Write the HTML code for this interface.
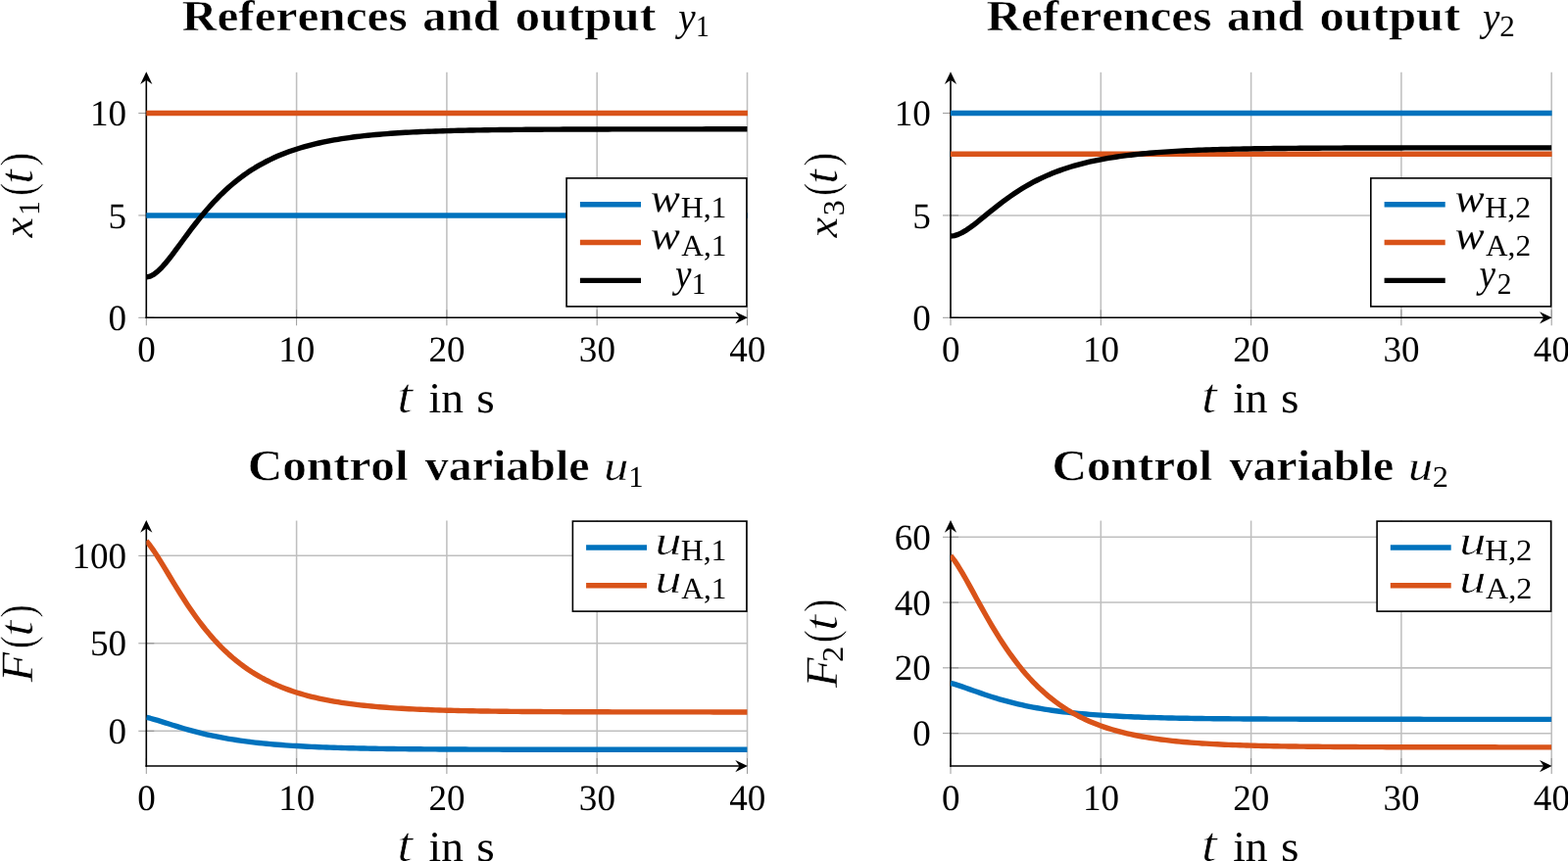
<!DOCTYPE html>
<html lang="en">
<head>
<meta charset="utf-8">
<title>References, outputs and control variables</title>
<style>
html,body{margin:0;padding:0;background:#fff;}
body{width:1600px;height:879px;overflow:hidden;font-family:"Liberation Serif", serif;}
svg text{font-family:"Liberation Serif", serif;white-space:pre;}
</style>
</head>
<body>
<svg width="1600" height="879" viewBox="0 0 1600 879" font-family='"Liberation Serif", serif' style="display:block;font-kerning:none;font-variant-ligatures:none" text-rendering="geometricPrecision">
<rect width="1600" height="879" fill="#fff"/>
<g id="plot1">
<g stroke="#bfbfbf" stroke-width="1.55" fill="none">
<line x1="302.6" y1="73.8" x2="302.6" y2="324.3"/>
<line x1="455.9" y1="73.8" x2="455.9" y2="324.3"/>
<line x1="609.2" y1="73.8" x2="609.2" y2="324.3"/>
<line x1="762.5" y1="73.8" x2="762.5" y2="324.3"/>
<line x1="149.3" y1="219.93" x2="762.5" y2="219.93"/>
<line x1="149.3" y1="115.55" x2="762.5" y2="115.55"/>
</g>
<g stroke="#808080" stroke-width="0.8" fill="none">
<line x1="149.3" y1="316.3" x2="149.3" y2="332.3"/>
<line x1="302.6" y1="316.3" x2="302.6" y2="332.3"/>
<line x1="455.9" y1="316.3" x2="455.9" y2="332.3"/>
<line x1="609.2" y1="316.3" x2="609.2" y2="332.3"/>
<line x1="762.5" y1="316.3" x2="762.5" y2="332.3"/>
<line x1="141.3" y1="324.3" x2="157.3" y2="324.3"/>
<line x1="141.3" y1="219.93" x2="157.3" y2="219.93"/>
<line x1="141.3" y1="115.55" x2="157.3" y2="115.55"/>
</g>
<g stroke="#000" stroke-width="1.6" fill="none">
<line x1="149.3" y1="325.1" x2="149.3" y2="79.8"/>
<line x1="148.5" y1="324.3" x2="756.5" y2="324.3"/>
</g>
<path d="M149.3 73.3 L155.4 86 L149.3 81.8 L143.2 86 Z" fill="#000"/>
<path d="M762.9 324.3 L750.3 318.2 L754.5 324.3 L750.3 330.4 Z" fill="#000"/>
<clipPath id="clip1"><rect x="149.3" y="68.8" width="613.6" height="260.5"/></clipPath>
<g clip-path="url(#clip1)" fill="none" stroke-width="5.4" stroke-linejoin="round">
<line x1="147.3" y1="219.93" x2="764.5" y2="219.93" stroke="#0072BD"/>
<line x1="147.3" y1="115.55" x2="764.5" y2="115.55" stroke="#D95319"/>
<polyline points="149.3,282.9 153.13,282.16 156.97,280.16 160.8,277.18 164.63,273.45 168.46,269.17 172.3,264.5 176.13,259.55 179.96,254.43 183.79,249.24 187.62,244.02 191.46,238.84 195.29,233.74 199.12,228.74 202.96,223.88 206.79,219.17 210.62,214.62 214.45,210.25 218.29,206.05 222.12,202.03 225.95,198.2 229.78,194.54 233.62,191.05 237.45,187.74 241.28,184.6 245.11,181.61 248.95,178.79 252.78,176.11 256.61,173.57 260.44,171.18 264.27,168.91 268.11,166.77 271.94,164.75 275.77,162.84 279.61,161.04 283.44,159.34 287.27,157.74 291.1,156.23 294.94,154.8 298.77,153.46 302.6,152.19 306.43,151 310.26,149.88 314.1,148.82 317.93,147.82 321.76,146.88 325.6,146 329.43,145.16 333.26,144.38 337.09,143.64 340.93,142.95 344.76,142.29 348.59,141.67 352.42,141.09 356.25,140.55 360.09,140.03 363.92,139.55 367.75,139.09 371.59,138.66 375.42,138.26 379.25,137.88 383.08,137.52 386.92,137.19 390.75,136.87 394.58,136.57 398.41,136.29 402.25,136.03 406.08,135.78 409.91,135.54 413.74,135.32 417.57,135.11 421.41,134.92 425.24,134.74 429.07,134.56 432.91,134.4 436.74,134.25 440.57,134.1 444.4,133.97 448.24,133.84 452.07,133.72 455.9,133.61 459.73,133.5 463.56,133.4 467.4,133.31 471.23,133.22 475.06,133.13 478.9,133.05 482.73,132.98 486.56,132.91 490.39,132.85 494.23,132.78 498.06,132.73 501.89,132.67 505.72,132.62 509.56,132.57 513.39,132.53 517.22,132.48 521.05,132.44 524.88,132.4 528.72,132.37 532.55,132.33 536.38,132.3 540.22,132.27 544.05,132.25 547.88,132.22 551.71,132.19 555.55,132.17 559.38,132.15 563.21,132.13 567.04,132.11 570.88,132.09 574.71,132.07 578.54,132.06 582.37,132.04 586.21,132.03 590.04,132.01 593.87,132 597.7,131.99 601.54,131.98 605.37,131.97 609.2,131.96 613.03,131.95 616.87,131.94 620.7,131.93 624.53,131.92 628.36,131.92 632.2,131.91 636.03,131.9 639.86,131.9 643.69,131.89 647.53,131.88 651.36,131.88 655.19,131.87 659.02,131.87 662.86,131.87 666.69,131.86 670.52,131.86 674.35,131.85 678.18,131.85 682.02,131.85 685.85,131.84 689.68,131.84 693.52,131.84 697.35,131.84 701.18,131.83 705.01,131.83 708.85,131.83 712.68,131.83 716.51,131.83 720.34,131.82 724.17,131.82 728.01,131.82 731.84,131.82 735.67,131.82 739.51,131.82 743.34,131.82 747.17,131.82 751,131.81 754.84,131.81 758.67,131.81 762.5,131.81" stroke="#000000"/>
</g>
<text><tspan x="140.22" y="369.2" font-size="37.1" textLength="18.55" lengthAdjust="spacingAndGlyphs">0</tspan></text>
<text><tspan x="284.25" y="369.2" font-size="37.1" textLength="37.1" lengthAdjust="spacingAndGlyphs">10</tspan></text>
<text><tspan x="437.55" y="369.2" font-size="37.1" textLength="37.1" lengthAdjust="spacingAndGlyphs">20</tspan></text>
<text><tspan x="590.85" y="369.2" font-size="37.1" textLength="37.1" lengthAdjust="spacingAndGlyphs">30</tspan></text>
<text><tspan x="744.15" y="369.2" font-size="37.1" textLength="37.1" lengthAdjust="spacingAndGlyphs">40</tspan></text>
<text><tspan x="110.56" y="336.9" font-size="37.1" textLength="18.55" lengthAdjust="spacingAndGlyphs">0</tspan></text>
<text><tspan x="110.6" y="232.53" font-size="37.1" textLength="18.55" lengthAdjust="spacingAndGlyphs">5</tspan></text>
<text><tspan x="92.01" y="128.15" font-size="37.1" textLength="37.1" lengthAdjust="spacingAndGlyphs">10</tspan></text>
<text><tspan x="405.26" y="421.24" font-size="50.59" textLength="15.84" lengthAdjust="spacingAndGlyphs" font-style="italic" stroke="#fff" stroke-width="0.67" stroke-linejoin="round">t</tspan> <tspan x="437.54" y="421" font-size="43.8" textLength="35.39" lengthAdjust="spacingAndGlyphs">in</tspan> <tspan x="486.35" y="421" font-size="43.8" textLength="18.46" lengthAdjust="spacingAndGlyphs">s</tspan></text>
<text transform="rotate(-90)"><tspan x="-242.51" y="33.48" font-size="43.49" textLength="20.74" lengthAdjust="spacingAndGlyphs" font-style="italic" stroke="#fff" stroke-width="0.16" stroke-linejoin="round">x</tspan><tspan x="-219.77" y="39.9" font-size="30.5" textLength="14.63" lengthAdjust="spacingAndGlyphs">1</tspan><tspan x="-200.1" y="33.78" font-size="49.19" textLength="13.23" lengthAdjust="spacingAndGlyphs" stroke="#fff" stroke-width="0.7" stroke-linejoin="round">(</tspan><tspan x="-187.67" y="33.15" font-size="49.36" textLength="14.74" lengthAdjust="spacingAndGlyphs" font-style="italic" stroke="#fff" stroke-width="0.47" stroke-linejoin="round">t</tspan><tspan x="-169.72" y="33.78" font-size="49.19" textLength="14.13" lengthAdjust="spacingAndGlyphs" stroke="#fff" stroke-width="0.7" stroke-linejoin="round">)</tspan></text>
<text><tspan x="185.81" y="30.5" font-size="44.37" textLength="229.85" lengthAdjust="spacingAndGlyphs" font-weight="bold" stroke="#fff" stroke-width="0.5" stroke-linejoin="round">References</tspan> <tspan x="431.38" y="30.5" font-size="44.37" textLength="78.62" lengthAdjust="spacingAndGlyphs" font-weight="bold" stroke="#fff" stroke-width="0.5" stroke-linejoin="round">and</tspan> <tspan x="525.82" y="30.5" font-size="44.37" textLength="143.65" lengthAdjust="spacingAndGlyphs" font-weight="bold" stroke="#fff" stroke-width="0.5" stroke-linejoin="round">output</tspan> <tspan x="692.27" y="30.51" font-size="41.2" textLength="17.41" lengthAdjust="spacingAndGlyphs" font-style="italic">y</tspan><tspan x="710.05" y="37.1" font-size="30.5" textLength="13.92" lengthAdjust="spacingAndGlyphs">1</tspan></text>
<rect x="578.1" y="181.9" width="183.8" height="131" fill="#fff" stroke="#000" stroke-width="1.6"/>
<line x1="591.9" y1="208.75" x2="654" y2="208.75" stroke="#0072BD" stroke-width="5.4"/>
<line x1="591.9" y1="247.5" x2="654" y2="247.5" stroke="#D95319" stroke-width="5.4"/>
<line x1="591.9" y1="286.4" x2="654" y2="286.4" stroke="#000000" stroke-width="5.4"/>
<text><tspan x="664.1" y="215.63" font-size="41.08" textLength="29.85" lengthAdjust="spacingAndGlyphs" font-style="italic" stroke="#fff" stroke-width="0.06" stroke-linejoin="round">w</tspan><tspan x="694.68" y="222.2" font-size="30.5" textLength="46.83" lengthAdjust="spacingAndGlyphs">H,1</tspan></text>
<text><tspan x="664.1" y="254.43" font-size="41.08" textLength="29.85" lengthAdjust="spacingAndGlyphs" font-style="italic" stroke="#fff" stroke-width="0.06" stroke-linejoin="round">w</tspan><tspan x="695.29" y="261" font-size="30.5" textLength="46.19" lengthAdjust="spacingAndGlyphs">A,1</tspan></text>
<text><tspan x="688.9" y="292.97" font-size="40.9" textLength="16.48" lengthAdjust="spacingAndGlyphs" font-style="italic">y</tspan><tspan x="705.73" y="300" font-size="30.5" textLength="14.63" lengthAdjust="spacingAndGlyphs">1</tspan></text>
</g>
<g id="plot2">
<g stroke="#bfbfbf" stroke-width="1.55" fill="none">
<line x1="1123.3" y1="73.8" x2="1123.3" y2="324.3"/>
<line x1="1276.6" y1="73.8" x2="1276.6" y2="324.3"/>
<line x1="1429.9" y1="73.8" x2="1429.9" y2="324.3"/>
<line x1="1583.2" y1="73.8" x2="1583.2" y2="324.3"/>
<line x1="970" y1="219.93" x2="1583.2" y2="219.93"/>
<line x1="970" y1="115.55" x2="1583.2" y2="115.55"/>
</g>
<g stroke="#808080" stroke-width="0.8" fill="none">
<line x1="970" y1="316.3" x2="970" y2="332.3"/>
<line x1="1123.3" y1="316.3" x2="1123.3" y2="332.3"/>
<line x1="1276.6" y1="316.3" x2="1276.6" y2="332.3"/>
<line x1="1429.9" y1="316.3" x2="1429.9" y2="332.3"/>
<line x1="1583.2" y1="316.3" x2="1583.2" y2="332.3"/>
<line x1="962" y1="324.3" x2="978" y2="324.3"/>
<line x1="962" y1="219.93" x2="978" y2="219.93"/>
<line x1="962" y1="115.55" x2="978" y2="115.55"/>
</g>
<g stroke="#000" stroke-width="1.6" fill="none">
<line x1="970" y1="325.1" x2="970" y2="79.8"/>
<line x1="969.2" y1="324.3" x2="1577.2" y2="324.3"/>
</g>
<path d="M970 73.3 L976.1 86 L970 81.8 L963.9 86 Z" fill="#000"/>
<path d="M1583.6 324.3 L1571 318.2 L1575.2 324.3 L1571 330.4 Z" fill="#000"/>
<clipPath id="clip2"><rect x="970" y="68.8" width="613.6" height="260.5"/></clipPath>
<g clip-path="url(#clip2)" fill="none" stroke-width="5.4" stroke-linejoin="round">
<line x1="968" y1="115.55" x2="1585.2" y2="115.55" stroke="#0072BD"/>
<line x1="968" y1="157.3" x2="1585.2" y2="157.3" stroke="#D95319"/>
<polyline points="970,241.07 973.83,240.63 977.66,239.42 981.5,237.63 985.33,235.39 989.16,232.82 993,230.01 996.83,227.04 1000.66,223.97 1004.49,220.85 1008.33,217.71 1012.16,214.61 1015.99,211.55 1019.82,208.55 1023.65,205.64 1027.49,202.81 1031.32,200.09 1035.15,197.47 1038.98,194.95 1042.82,192.55 1046.65,190.25 1050.48,188.06 1054.32,185.98 1058.15,184 1061.98,182.12 1065.81,180.34 1069.64,178.65 1073.48,177.06 1077.31,175.54 1081.14,174.11 1084.97,172.76 1088.81,171.49 1092.64,170.29 1096.47,169.15 1100.31,168.08 1104.14,167.07 1107.97,166.12 1111.8,165.22 1115.63,164.37 1119.47,163.58 1123.3,162.82 1127.13,162.12 1130.96,161.45 1134.8,160.82 1138.63,160.23 1142.46,159.68 1146.3,159.16 1150.13,158.66 1153.96,158.2 1157.79,157.76 1161.62,157.35 1165.46,156.97 1169.29,156.6 1173.12,156.26 1176.95,155.94 1180.79,155.64 1184.62,155.35 1188.45,155.09 1192.29,154.83 1196.12,154.6 1199.95,154.37 1203.78,154.16 1207.62,153.97 1211.45,153.78 1215.28,153.61 1219.11,153.44 1222.94,153.29 1226.78,153.14 1230.61,153 1234.44,152.88 1238.28,152.76 1242.11,152.64 1245.94,152.53 1249.77,152.43 1253.61,152.34 1257.44,152.25 1261.27,152.17 1265.1,152.09 1268.93,152.01 1272.77,151.94 1276.6,151.88 1280.43,151.82 1284.26,151.76 1288.1,151.7 1291.93,151.65 1295.76,151.6 1299.6,151.56 1303.43,151.51 1307.26,151.47 1311.09,151.44 1314.93,151.4 1318.76,151.37 1322.59,151.34 1326.42,151.31 1330.26,151.28 1334.09,151.25 1337.92,151.23 1341.75,151.2 1345.59,151.18 1349.42,151.16 1353.25,151.14 1357.08,151.12 1360.91,151.11 1364.75,151.09 1368.58,151.08 1372.41,151.06 1376.24,151.05 1380.08,151.04 1383.91,151.02 1387.74,151.01 1391.58,151 1395.41,150.99 1399.24,150.98 1403.07,150.97 1406.9,150.97 1410.74,150.96 1414.57,150.95 1418.4,150.94 1422.24,150.94 1426.07,150.93 1429.9,150.93 1433.73,150.92 1437.57,150.92 1441.4,150.91 1445.23,150.91 1449.06,150.9 1452.89,150.9 1456.73,150.89 1460.56,150.89 1464.39,150.89 1468.22,150.88 1472.06,150.88 1475.89,150.88 1479.72,150.88 1483.56,150.87 1487.39,150.87 1491.22,150.87 1495.05,150.87 1498.88,150.87 1502.72,150.86 1506.55,150.86 1510.38,150.86 1514.22,150.86 1518.05,150.86 1521.88,150.86 1525.71,150.86 1529.55,150.85 1533.38,150.85 1537.21,150.85 1541.04,150.85 1544.88,150.85 1548.71,150.85 1552.54,150.85 1556.37,150.85 1560.2,150.85 1564.04,150.85 1567.87,150.85 1571.7,150.85 1575.54,150.84 1579.37,150.84 1583.2,150.84" stroke="#000000"/>
</g>
<text><tspan x="960.93" y="369.2" font-size="37.1" textLength="18.55" lengthAdjust="spacingAndGlyphs">0</tspan></text>
<text><tspan x="1104.95" y="369.2" font-size="37.1" textLength="37.1" lengthAdjust="spacingAndGlyphs">10</tspan></text>
<text><tspan x="1258.25" y="369.2" font-size="37.1" textLength="37.1" lengthAdjust="spacingAndGlyphs">20</tspan></text>
<text><tspan x="1411.55" y="369.2" font-size="37.1" textLength="37.1" lengthAdjust="spacingAndGlyphs">30</tspan></text>
<text><tspan x="1564.85" y="369.2" font-size="37.1" textLength="37.1" lengthAdjust="spacingAndGlyphs">40</tspan></text>
<text><tspan x="931.26" y="336.9" font-size="37.1" textLength="18.55" lengthAdjust="spacingAndGlyphs">0</tspan></text>
<text><tspan x="931.3" y="232.53" font-size="37.1" textLength="18.55" lengthAdjust="spacingAndGlyphs">5</tspan></text>
<text><tspan x="912.71" y="128.15" font-size="37.1" textLength="37.1" lengthAdjust="spacingAndGlyphs">10</tspan></text>
<text><tspan x="1225.96" y="421.24" font-size="50.59" textLength="15.84" lengthAdjust="spacingAndGlyphs" font-style="italic" stroke="#fff" stroke-width="0.67" stroke-linejoin="round">t</tspan> <tspan x="1258.24" y="421" font-size="43.8" textLength="35.39" lengthAdjust="spacingAndGlyphs">in</tspan> <tspan x="1307.05" y="421" font-size="43.8" textLength="18.46" lengthAdjust="spacingAndGlyphs">s</tspan></text>
<text transform="rotate(-90)"><tspan x="-242.51" y="854.18" font-size="43.49" textLength="20.74" lengthAdjust="spacingAndGlyphs" font-style="italic" stroke="#fff" stroke-width="0.16" stroke-linejoin="round">x</tspan><tspan x="-220.23" y="860.6" font-size="30.5" textLength="15.98" lengthAdjust="spacingAndGlyphs">3</tspan><tspan x="-200.1" y="854.48" font-size="49.19" textLength="13.23" lengthAdjust="spacingAndGlyphs" stroke="#fff" stroke-width="0.7" stroke-linejoin="round">(</tspan><tspan x="-187.67" y="853.85" font-size="49.36" textLength="14.74" lengthAdjust="spacingAndGlyphs" font-style="italic" stroke="#fff" stroke-width="0.47" stroke-linejoin="round">t</tspan><tspan x="-169.72" y="854.48" font-size="49.19" textLength="14.13" lengthAdjust="spacingAndGlyphs" stroke="#fff" stroke-width="0.7" stroke-linejoin="round">)</tspan></text>
<text><tspan x="1006.51" y="30.5" font-size="44.37" textLength="229.85" lengthAdjust="spacingAndGlyphs" font-weight="bold" stroke="#fff" stroke-width="0.5" stroke-linejoin="round">References</tspan> <tspan x="1252.08" y="30.5" font-size="44.37" textLength="78.62" lengthAdjust="spacingAndGlyphs" font-weight="bold" stroke="#fff" stroke-width="0.5" stroke-linejoin="round">and</tspan> <tspan x="1346.52" y="30.5" font-size="44.37" textLength="143.65" lengthAdjust="spacingAndGlyphs" font-weight="bold" stroke="#fff" stroke-width="0.5" stroke-linejoin="round">output</tspan> <tspan x="1512.97" y="30.51" font-size="41.2" textLength="17.41" lengthAdjust="spacingAndGlyphs" font-style="italic">y</tspan><tspan x="1530.23" y="37.1" font-size="30.5" textLength="15.59" lengthAdjust="spacingAndGlyphs">2</tspan></text>
<rect x="1398.8" y="181.9" width="183.8" height="131" fill="#fff" stroke="#000" stroke-width="1.6"/>
<line x1="1412.6" y1="208.75" x2="1474.7" y2="208.75" stroke="#0072BD" stroke-width="5.4"/>
<line x1="1412.6" y1="247.5" x2="1474.7" y2="247.5" stroke="#D95319" stroke-width="5.4"/>
<line x1="1412.6" y1="286.4" x2="1474.7" y2="286.4" stroke="#000000" stroke-width="5.4"/>
<text><tspan x="1484.8" y="215.63" font-size="41.08" textLength="29.85" lengthAdjust="spacingAndGlyphs" font-style="italic" stroke="#fff" stroke-width="0.06" stroke-linejoin="round">w</tspan><tspan x="1515.39" y="222.2" font-size="30.5" textLength="46.66" lengthAdjust="spacingAndGlyphs">H,2</tspan></text>
<text><tspan x="1484.8" y="254.43" font-size="41.08" textLength="29.85" lengthAdjust="spacingAndGlyphs" font-style="italic" stroke="#fff" stroke-width="0.06" stroke-linejoin="round">w</tspan><tspan x="1515.99" y="261" font-size="30.5" textLength="46.03" lengthAdjust="spacingAndGlyphs">A,2</tspan></text>
<text><tspan x="1509.6" y="292.97" font-size="40.9" textLength="16.48" lengthAdjust="spacingAndGlyphs" font-style="italic">y</tspan><tspan x="1527.71" y="300" font-size="30.5" textLength="14.72" lengthAdjust="spacingAndGlyphs">2</tspan></text>
</g>
<g id="plot3">
<g stroke="#bfbfbf" stroke-width="1.55" fill="none">
<line x1="302.6" y1="531.55" x2="302.6" y2="782.05"/>
<line x1="455.9" y1="531.55" x2="455.9" y2="782.05"/>
<line x1="609.2" y1="531.55" x2="609.2" y2="782.05"/>
<line x1="762.5" y1="531.55" x2="762.5" y2="782.05"/>
<line x1="149.3" y1="746.26" x2="762.5" y2="746.26"/>
<line x1="149.3" y1="656.8" x2="762.5" y2="656.8"/>
<line x1="149.3" y1="567.34" x2="762.5" y2="567.34"/>
</g>
<g stroke="#808080" stroke-width="0.8" fill="none">
<line x1="149.3" y1="774.05" x2="149.3" y2="790.05"/>
<line x1="302.6" y1="774.05" x2="302.6" y2="790.05"/>
<line x1="455.9" y1="774.05" x2="455.9" y2="790.05"/>
<line x1="609.2" y1="774.05" x2="609.2" y2="790.05"/>
<line x1="762.5" y1="774.05" x2="762.5" y2="790.05"/>
<line x1="141.3" y1="746.26" x2="157.3" y2="746.26"/>
<line x1="141.3" y1="656.8" x2="157.3" y2="656.8"/>
<line x1="141.3" y1="567.34" x2="157.3" y2="567.34"/>
</g>
<g stroke="#000" stroke-width="1.6" fill="none">
<line x1="149.3" y1="782.85" x2="149.3" y2="537.55"/>
<line x1="148.5" y1="782.05" x2="756.5" y2="782.05"/>
</g>
<path d="M149.3 531.05 L155.4 543.75 L149.3 539.55 L143.2 543.75 Z" fill="#000"/>
<path d="M762.9 782.05 L750.3 775.95 L754.5 782.05 L750.3 788.15 Z" fill="#000"/>
<clipPath id="clip3"><rect x="149.3" y="526.55" width="613.6" height="260.5"/></clipPath>
<g clip-path="url(#clip3)" fill="none" stroke-width="5.4" stroke-linejoin="round">
<polyline points="149.3,732.28 153.13,733.24 156.97,734.31 160.8,735.45 164.63,736.63 168.46,737.83 172.3,739.04 176.13,740.25 179.96,741.44 183.79,742.61 187.62,743.74 191.46,744.84 195.29,745.91 199.12,746.93 202.96,747.92 206.79,748.86 210.62,749.76 214.45,750.62 218.29,751.43 222.12,752.21 225.95,752.95 229.78,753.65 233.62,754.31 237.45,754.94 241.28,755.54 245.11,756.1 248.95,756.63 252.78,757.13 256.61,757.61 260.44,758.06 264.27,758.48 268.11,758.88 271.94,759.25 275.77,759.61 279.61,759.94 283.44,760.25 287.27,760.55 291.1,760.83 294.94,761.09 298.77,761.34 302.6,761.57 306.43,761.79 310.26,762 314.1,762.2 317.93,762.38 321.76,762.55 325.6,762.71 329.43,762.87 333.26,763.01 337.09,763.15 340.93,763.27 344.76,763.39 348.59,763.51 352.42,763.61 356.25,763.71 360.09,763.81 363.92,763.9 367.75,763.98 371.59,764.06 375.42,764.13 379.25,764.2 383.08,764.27 386.92,764.33 390.75,764.39 394.58,764.44 398.41,764.49 402.25,764.54 406.08,764.59 409.91,764.63 413.74,764.67 417.57,764.71 421.41,764.74 425.24,764.78 429.07,764.81 432.91,764.84 436.74,764.86 440.57,764.89 444.4,764.92 448.24,764.94 452.07,764.96 455.9,764.98 459.73,765 463.56,765.02 467.4,765.04 471.23,765.05 475.06,765.07 478.9,765.08 482.73,765.09 486.56,765.11 490.39,765.12 494.23,765.13 498.06,765.14 501.89,765.15 505.72,765.16 509.56,765.17 513.39,765.18 517.22,765.18 521.05,765.19 524.88,765.2 528.72,765.21 532.55,765.21 536.38,765.22 540.22,765.22 544.05,765.23 547.88,765.23 551.71,765.24 555.55,765.24 559.38,765.25 563.21,765.25 567.04,765.25 570.88,765.26 574.71,765.26 578.54,765.26 582.37,765.26 586.21,765.27 590.04,765.27 593.87,765.27 597.7,765.27 601.54,765.28 605.37,765.28 609.2,765.28 613.03,765.28 616.87,765.28 620.7,765.28 624.53,765.29 628.36,765.29 632.2,765.29 636.03,765.29 639.86,765.29 643.69,765.29 647.53,765.29 651.36,765.29 655.19,765.29 659.02,765.3 662.86,765.3 666.69,765.3 670.52,765.3 674.35,765.3 678.18,765.3 682.02,765.3 685.85,765.3 689.68,765.3 693.52,765.3 697.35,765.3 701.18,765.3 705.01,765.3 708.85,765.3 712.68,765.3 716.51,765.3 720.34,765.3 724.17,765.3 728.01,765.3 731.84,765.3 735.67,765.3 739.51,765.3 743.34,765.3 747.17,765.31 751,765.31 754.84,765.31 758.67,765.31 762.5,765.31" stroke="#0072BD"/>
<polyline points="149.3,552.09 153.13,556.94 156.97,562.38 160.8,568.24 164.63,574.37 168.46,580.66 172.3,587.01 176.13,593.35 179.96,599.63 183.79,605.79 187.62,611.81 191.46,617.66 195.29,623.31 199.12,628.76 202.96,633.99 206.79,639.01 210.62,643.81 214.45,648.38 218.29,652.74 222.12,656.89 225.95,660.83 229.78,664.57 233.62,668.12 237.45,671.48 241.28,674.65 245.11,677.66 248.95,680.5 252.78,683.19 256.61,685.73 260.44,688.12 264.27,690.38 268.11,692.51 271.94,694.52 275.77,696.42 279.61,698.21 283.44,699.89 287.27,701.48 291.1,702.97 294.94,704.38 298.77,705.71 302.6,706.96 306.43,708.13 310.26,709.24 314.1,710.28 317.93,711.27 321.76,712.19 325.6,713.06 329.43,713.88 333.26,714.65 337.09,715.38 340.93,716.06 344.76,716.7 348.59,717.31 352.42,717.88 356.25,718.41 360.09,718.92 363.92,719.39 367.75,719.84 371.59,720.26 375.42,720.65 379.25,721.02 383.08,721.37 386.92,721.7 390.75,722.01 394.58,722.31 398.41,722.58 402.25,722.84 406.08,723.08 409.91,723.31 413.74,723.52 417.57,723.73 421.41,723.92 425.24,724.1 429.07,724.26 432.91,724.42 436.74,724.57 440.57,724.71 444.4,724.85 448.24,724.97 452.07,725.09 455.9,725.2 459.73,725.3 463.56,725.4 467.4,725.49 471.23,725.58 475.06,725.66 478.9,725.73 482.73,725.8 486.56,725.87 490.39,725.94 494.23,726 498.06,726.05 501.89,726.11 505.72,726.16 509.56,726.2 513.39,726.25 517.22,726.29 521.05,726.33 524.88,726.36 528.72,726.4 532.55,726.43 536.38,726.46 540.22,726.49 544.05,726.52 547.88,726.54 551.71,726.57 555.55,726.59 559.38,726.61 563.21,726.63 567.04,726.65 570.88,726.67 574.71,726.68 578.54,726.7 582.37,726.71 586.21,726.73 590.04,726.74 593.87,726.75 597.7,726.76 601.54,726.78 605.37,726.79 609.2,726.8 613.03,726.8 616.87,726.81 620.7,726.82 624.53,726.83 628.36,726.84 632.2,726.84 636.03,726.85 639.86,726.85 643.69,726.86 647.53,726.87 651.36,726.87 655.19,726.87 659.02,726.88 662.86,726.88 666.69,726.89 670.52,726.89 674.35,726.89 678.18,726.9 682.02,726.9 685.85,726.9 689.68,726.91 693.52,726.91 697.35,726.91 701.18,726.91 705.01,726.92 708.85,726.92 712.68,726.92 716.51,726.92 720.34,726.92 724.17,726.92 728.01,726.93 731.84,726.93 735.67,726.93 739.51,726.93 743.34,726.93 747.17,726.93 751,726.93 754.84,726.93 758.67,726.93 762.5,726.94" stroke="#D95319"/>
</g>
<text><tspan x="140.22" y="826.95" font-size="37.1" textLength="18.55" lengthAdjust="spacingAndGlyphs">0</tspan></text>
<text><tspan x="284.25" y="826.95" font-size="37.1" textLength="37.1" lengthAdjust="spacingAndGlyphs">10</tspan></text>
<text><tspan x="437.55" y="826.95" font-size="37.1" textLength="37.1" lengthAdjust="spacingAndGlyphs">20</tspan></text>
<text><tspan x="590.85" y="826.95" font-size="37.1" textLength="37.1" lengthAdjust="spacingAndGlyphs">30</tspan></text>
<text><tspan x="744.15" y="826.95" font-size="37.1" textLength="37.1" lengthAdjust="spacingAndGlyphs">40</tspan></text>
<text><tspan x="110.56" y="758.86" font-size="37.1" textLength="18.55" lengthAdjust="spacingAndGlyphs">0</tspan></text>
<text><tspan x="92.01" y="669.4" font-size="37.1" textLength="37.1" lengthAdjust="spacingAndGlyphs">50</tspan></text>
<text><tspan x="73.46" y="579.94" font-size="37.1" textLength="55.65" lengthAdjust="spacingAndGlyphs">100</tspan></text>
<text><tspan x="405.26" y="878.84" font-size="50.59" textLength="15.84" lengthAdjust="spacingAndGlyphs" font-style="italic" stroke="#fff" stroke-width="0.67" stroke-linejoin="round">t</tspan> <tspan x="437.54" y="878.6" font-size="43.8" textLength="35.39" lengthAdjust="spacingAndGlyphs">in</tspan> <tspan x="486.35" y="878.6" font-size="43.8" textLength="18.46" lengthAdjust="spacingAndGlyphs">s</tspan></text>
<text transform="rotate(-90)"><tspan x="-696.2" y="33.17" font-size="46.34" textLength="30.36" lengthAdjust="spacingAndGlyphs" font-style="italic" stroke="#fff" stroke-width="0.34" stroke-linejoin="round">F</tspan><tspan x="-662.21" y="33.78" font-size="49.19" textLength="13.35" lengthAdjust="spacingAndGlyphs" stroke="#fff" stroke-width="0.7" stroke-linejoin="round">(</tspan><tspan x="-650.11" y="33.31" font-size="49.93" textLength="16.52" lengthAdjust="spacingAndGlyphs" font-style="italic" stroke="#fff" stroke-width="0.8" stroke-linejoin="round">t</tspan><tspan x="-631.09" y="33.78" font-size="49.19" textLength="13.87" lengthAdjust="spacingAndGlyphs" stroke="#fff" stroke-width="0.7" stroke-linejoin="round">)</tspan></text>
<text><tspan x="252.75" y="490" font-size="44.37" textLength="163.84" lengthAdjust="spacingAndGlyphs" font-weight="bold" stroke="#fff" stroke-width="0.5" stroke-linejoin="round">Control</tspan> <tspan x="433.75" y="490" font-size="44.37" textLength="167.74" lengthAdjust="spacingAndGlyphs" font-weight="bold" stroke="#fff" stroke-width="0.5" stroke-linejoin="round">variable</tspan> <tspan x="616.23" y="490.28" font-size="42.38" textLength="25.06" lengthAdjust="spacingAndGlyphs" font-style="italic" stroke="#fff" stroke-width="0.35" stroke-linejoin="round">u</tspan><tspan x="641.3" y="496.75" font-size="30.5" textLength="15.34" lengthAdjust="spacingAndGlyphs">1</tspan></text>
<rect x="584.4" y="532.1" width="177.5" height="92" fill="#fff" stroke="#000" stroke-width="1.6"/>
<line x1="598.1" y1="559" x2="660" y2="559" stroke="#0072BD" stroke-width="5.4"/>
<line x1="598.1" y1="597.75" x2="660" y2="597.75" stroke="#D95319" stroke-width="5.4"/>
<text><tspan x="668.34" y="565.92" font-size="42.34" textLength="27.57" lengthAdjust="spacingAndGlyphs" font-style="italic" stroke="#fff" stroke-width="0.63" stroke-linejoin="round">u</tspan><tspan x="694.68" y="572.2" font-size="30.5" textLength="46.83" lengthAdjust="spacingAndGlyphs">H,1</tspan></text>
<text><tspan x="668.34" y="604.72" font-size="42.34" textLength="27.57" lengthAdjust="spacingAndGlyphs" font-style="italic" stroke="#fff" stroke-width="0.63" stroke-linejoin="round">u</tspan><tspan x="695.29" y="611" font-size="30.5" textLength="46.19" lengthAdjust="spacingAndGlyphs">A,1</tspan></text>
</g>
<g id="plot4">
<g stroke="#bfbfbf" stroke-width="1.55" fill="none">
<line x1="1123.3" y1="531.55" x2="1123.3" y2="782.05"/>
<line x1="1276.6" y1="531.55" x2="1276.6" y2="782.05"/>
<line x1="1429.9" y1="531.55" x2="1429.9" y2="782.05"/>
<line x1="1583.2" y1="531.55" x2="1583.2" y2="782.05"/>
<line x1="970" y1="748.65" x2="1583.2" y2="748.65"/>
<line x1="970" y1="681.85" x2="1583.2" y2="681.85"/>
<line x1="970" y1="615.05" x2="1583.2" y2="615.05"/>
<line x1="970" y1="548.25" x2="1583.2" y2="548.25"/>
</g>
<g stroke="#808080" stroke-width="0.8" fill="none">
<line x1="970" y1="774.05" x2="970" y2="790.05"/>
<line x1="1123.3" y1="774.05" x2="1123.3" y2="790.05"/>
<line x1="1276.6" y1="774.05" x2="1276.6" y2="790.05"/>
<line x1="1429.9" y1="774.05" x2="1429.9" y2="790.05"/>
<line x1="1583.2" y1="774.05" x2="1583.2" y2="790.05"/>
<line x1="962" y1="748.65" x2="978" y2="748.65"/>
<line x1="962" y1="681.85" x2="978" y2="681.85"/>
<line x1="962" y1="615.05" x2="978" y2="615.05"/>
<line x1="962" y1="548.25" x2="978" y2="548.25"/>
</g>
<g stroke="#000" stroke-width="1.6" fill="none">
<line x1="970" y1="782.85" x2="970" y2="537.55"/>
<line x1="969.2" y1="782.05" x2="1577.2" y2="782.05"/>
</g>
<path d="M970 531.05 L976.1 543.75 L970 539.55 L963.9 543.75 Z" fill="#000"/>
<path d="M1583.6 782.05 L1571 775.95 L1575.2 782.05 L1571 788.15 Z" fill="#000"/>
<clipPath id="clip4"><rect x="970" y="526.55" width="613.6" height="260.5"/></clipPath>
<g clip-path="url(#clip4)" fill="none" stroke-width="5.4" stroke-linejoin="round">
<polyline points="970,697.33 973.83,698.42 977.66,699.63 981.5,700.91 985.33,702.24 989.16,703.59 993,704.95 996.83,706.31 1000.66,707.64 1004.49,708.95 1008.33,710.22 1012.16,711.46 1015.99,712.65 1019.82,713.8 1023.65,714.9 1027.49,715.95 1031.32,716.96 1035.15,717.92 1038.98,718.83 1042.82,719.7 1046.65,720.53 1050.48,721.31 1054.32,722.05 1058.15,722.76 1061.98,723.42 1065.81,724.05 1069.64,724.65 1073.48,725.21 1077.31,725.74 1081.14,726.24 1084.97,726.71 1088.81,727.16 1092.64,727.58 1096.47,727.97 1100.31,728.35 1104.14,728.7 1107.97,729.03 1111.8,729.34 1115.63,729.64 1119.47,729.91 1123.3,730.17 1127.13,730.42 1130.96,730.65 1134.8,730.87 1138.63,731.07 1142.46,731.27 1146.3,731.45 1150.13,731.62 1153.96,731.78 1157.79,731.93 1161.62,732.07 1165.46,732.21 1169.29,732.33 1173.12,732.45 1176.95,732.57 1180.79,732.67 1184.62,732.77 1188.45,732.86 1192.29,732.95 1196.12,733.03 1199.95,733.11 1203.78,733.18 1207.62,733.25 1211.45,733.32 1215.28,733.38 1219.11,733.44 1222.94,733.49 1226.78,733.54 1230.61,733.59 1234.44,733.63 1238.28,733.68 1242.11,733.71 1245.94,733.75 1249.77,733.79 1253.61,733.82 1257.44,733.85 1261.27,733.88 1265.1,733.91 1268.93,733.93 1272.77,733.96 1276.6,733.98 1280.43,734 1284.26,734.02 1288.1,734.04 1291.93,734.06 1295.76,734.08 1299.6,734.09 1303.43,734.11 1307.26,734.12 1311.09,734.14 1314.93,734.15 1318.76,734.16 1322.59,734.17 1326.42,734.18 1330.26,734.19 1334.09,734.2 1337.92,734.21 1341.75,734.22 1345.59,734.23 1349.42,734.23 1353.25,734.24 1357.08,734.25 1360.91,734.25 1364.75,734.26 1368.58,734.26 1372.41,734.27 1376.24,734.27 1380.08,734.28 1383.91,734.28 1387.74,734.29 1391.58,734.29 1395.41,734.29 1399.24,734.3 1403.07,734.3 1406.9,734.3 1410.74,734.3 1414.57,734.31 1418.4,734.31 1422.24,734.31 1426.07,734.31 1429.9,734.32 1433.73,734.32 1437.57,734.32 1441.4,734.32 1445.23,734.32 1449.06,734.32 1452.89,734.33 1456.73,734.33 1460.56,734.33 1464.39,734.33 1468.22,734.33 1472.06,734.33 1475.89,734.33 1479.72,734.33 1483.56,734.33 1487.39,734.33 1491.22,734.34 1495.05,734.34 1498.88,734.34 1502.72,734.34 1506.55,734.34 1510.38,734.34 1514.22,734.34 1518.05,734.34 1521.88,734.34 1525.71,734.34 1529.55,734.34 1533.38,734.34 1537.21,734.34 1541.04,734.34 1544.88,734.34 1548.71,734.34 1552.54,734.34 1556.37,734.34 1560.2,734.34 1564.04,734.34 1567.87,734.34 1571.7,734.34 1575.54,734.34 1579.37,734.34 1583.2,734.34" stroke="#0072BD"/>
<polyline points="970,567.26 973.83,572.1 977.66,577.8 981.5,584.09 985.33,590.75 989.16,597.64 993,604.64 996.83,611.67 1000.66,618.64 1004.49,625.52 1008.33,632.26 1012.16,638.83 1015.99,645.2 1019.82,651.35 1023.65,657.28 1027.49,662.98 1031.32,668.45 1035.15,673.67 1038.98,678.66 1042.82,683.41 1046.65,687.93 1050.48,692.23 1054.32,696.31 1058.15,700.18 1061.98,703.84 1065.81,707.31 1069.64,710.59 1073.48,713.69 1077.31,716.62 1081.14,719.38 1084.97,721.98 1088.81,724.44 1092.64,726.75 1096.47,728.93 1100.31,730.99 1104.14,732.92 1107.97,734.74 1111.8,736.45 1115.63,738.06 1119.47,739.58 1123.3,741 1127.13,742.34 1130.96,743.59 1134.8,744.78 1138.63,745.89 1142.46,746.93 1146.3,747.91 1150.13,748.83 1153.96,749.69 1157.79,750.5 1161.62,751.27 1165.46,751.98 1169.29,752.65 1173.12,753.28 1176.95,753.87 1180.79,754.43 1184.62,754.95 1188.45,755.44 1192.29,755.9 1196.12,756.33 1199.95,756.73 1203.78,757.11 1207.62,757.46 1211.45,757.8 1215.28,758.11 1219.11,758.41 1222.94,758.68 1226.78,758.94 1230.61,759.18 1234.44,759.41 1238.28,759.62 1242.11,759.82 1245.94,760.01 1249.77,760.19 1253.61,760.35 1257.44,760.51 1261.27,760.65 1265.1,760.79 1268.93,760.92 1272.77,761.04 1276.6,761.15 1280.43,761.25 1284.26,761.35 1288.1,761.45 1291.93,761.53 1295.76,761.62 1299.6,761.69 1303.43,761.76 1307.26,761.83 1311.09,761.89 1314.93,761.95 1318.76,762.01 1322.59,762.06 1326.42,762.11 1330.26,762.16 1334.09,762.2 1337.92,762.24 1341.75,762.28 1345.59,762.31 1349.42,762.35 1353.25,762.38 1357.08,762.41 1360.91,762.43 1364.75,762.46 1368.58,762.48 1372.41,762.51 1376.24,762.53 1380.08,762.55 1383.91,762.57 1387.74,762.59 1391.58,762.6 1395.41,762.62 1399.24,762.63 1403.07,762.65 1406.9,762.66 1410.74,762.67 1414.57,762.68 1418.4,762.69 1422.24,762.7 1426.07,762.71 1429.9,762.72 1433.73,762.73 1437.57,762.74 1441.4,762.74 1445.23,762.75 1449.06,762.76 1452.89,762.76 1456.73,762.77 1460.56,762.77 1464.39,762.78 1468.22,762.78 1472.06,762.79 1475.89,762.79 1479.72,762.79 1483.56,762.8 1487.39,762.8 1491.22,762.8 1495.05,762.81 1498.88,762.81 1502.72,762.81 1506.55,762.81 1510.38,762.82 1514.22,762.82 1518.05,762.82 1521.88,762.82 1525.71,762.82 1529.55,762.83 1533.38,762.83 1537.21,762.83 1541.04,762.83 1544.88,762.83 1548.71,762.83 1552.54,762.83 1556.37,762.83 1560.2,762.84 1564.04,762.84 1567.87,762.84 1571.7,762.84 1575.54,762.84 1579.37,762.84 1583.2,762.84" stroke="#D95319"/>
</g>
<text><tspan x="960.93" y="826.95" font-size="37.1" textLength="18.55" lengthAdjust="spacingAndGlyphs">0</tspan></text>
<text><tspan x="1104.95" y="826.95" font-size="37.1" textLength="37.1" lengthAdjust="spacingAndGlyphs">10</tspan></text>
<text><tspan x="1258.25" y="826.95" font-size="37.1" textLength="37.1" lengthAdjust="spacingAndGlyphs">20</tspan></text>
<text><tspan x="1411.55" y="826.95" font-size="37.1" textLength="37.1" lengthAdjust="spacingAndGlyphs">30</tspan></text>
<text><tspan x="1564.85" y="826.95" font-size="37.1" textLength="37.1" lengthAdjust="spacingAndGlyphs">40</tspan></text>
<text><tspan x="931.26" y="761.25" font-size="37.1" textLength="18.55" lengthAdjust="spacingAndGlyphs">0</tspan></text>
<text><tspan x="912.71" y="694.45" font-size="37.1" textLength="37.1" lengthAdjust="spacingAndGlyphs">20</tspan></text>
<text><tspan x="912.71" y="627.65" font-size="37.1" textLength="37.1" lengthAdjust="spacingAndGlyphs">40</tspan></text>
<text><tspan x="912.71" y="560.85" font-size="37.1" textLength="37.1" lengthAdjust="spacingAndGlyphs">60</tspan></text>
<text><tspan x="1225.96" y="878.84" font-size="50.59" textLength="15.84" lengthAdjust="spacingAndGlyphs" font-style="italic" stroke="#fff" stroke-width="0.67" stroke-linejoin="round">t</tspan> <tspan x="1258.24" y="878.6" font-size="43.8" textLength="35.39" lengthAdjust="spacingAndGlyphs">in</tspan> <tspan x="1307.05" y="878.6" font-size="43.8" textLength="18.46" lengthAdjust="spacingAndGlyphs">s</tspan></text>
<text transform="rotate(-90)"><tspan x="-701.92" y="853.89" font-size="46.39" textLength="30.69" lengthAdjust="spacingAndGlyphs" font-style="italic" stroke="#fff" stroke-width="0.37" stroke-linejoin="round">F</tspan><tspan x="-676.13" y="860.3" font-size="30.5" textLength="16.21" lengthAdjust="spacingAndGlyphs">2</tspan><tspan x="-656.31" y="854.48" font-size="49.19" textLength="13.35" lengthAdjust="spacingAndGlyphs" stroke="#fff" stroke-width="0.7" stroke-linejoin="round">(</tspan><tspan x="-644.21" y="854.01" font-size="49.93" textLength="16.52" lengthAdjust="spacingAndGlyphs" font-style="italic" stroke="#fff" stroke-width="0.8" stroke-linejoin="round">t</tspan><tspan x="-625.19" y="854.48" font-size="49.19" textLength="13.87" lengthAdjust="spacingAndGlyphs" stroke="#fff" stroke-width="0.7" stroke-linejoin="round">)</tspan></text>
<text><tspan x="1073.45" y="490" font-size="44.37" textLength="163.84" lengthAdjust="spacingAndGlyphs" font-weight="bold" stroke="#fff" stroke-width="0.5" stroke-linejoin="round">Control</tspan> <tspan x="1254.45" y="490" font-size="44.37" textLength="167.74" lengthAdjust="spacingAndGlyphs" font-weight="bold" stroke="#fff" stroke-width="0.5" stroke-linejoin="round">variable</tspan> <tspan x="1436.93" y="490.28" font-size="42.38" textLength="25.06" lengthAdjust="spacingAndGlyphs" font-style="italic" stroke="#fff" stroke-width="0.35" stroke-linejoin="round">u</tspan><tspan x="1461.87" y="496.75" font-size="30.5" textLength="16.21" lengthAdjust="spacingAndGlyphs">2</tspan></text>
<rect x="1405.1" y="532.1" width="177.5" height="92" fill="#fff" stroke="#000" stroke-width="1.6"/>
<line x1="1418.8" y1="559" x2="1480.7" y2="559" stroke="#0072BD" stroke-width="5.4"/>
<line x1="1418.8" y1="597.75" x2="1480.7" y2="597.75" stroke="#D95319" stroke-width="5.4"/>
<text><tspan x="1489.04" y="565.92" font-size="42.34" textLength="27.57" lengthAdjust="spacingAndGlyphs" font-style="italic" stroke="#fff" stroke-width="0.63" stroke-linejoin="round">u</tspan><tspan x="1515.36" y="572.2" font-size="30.5" textLength="48.04" lengthAdjust="spacingAndGlyphs">H,2</tspan></text>
<text><tspan x="1489.04" y="604.72" font-size="42.34" textLength="27.57" lengthAdjust="spacingAndGlyphs" font-style="italic" stroke="#fff" stroke-width="0.63" stroke-linejoin="round">u</tspan><tspan x="1515.99" y="611" font-size="30.5" textLength="47.39" lengthAdjust="spacingAndGlyphs">A,2</tspan></text>
</g>
</svg>
</body>
</html>
